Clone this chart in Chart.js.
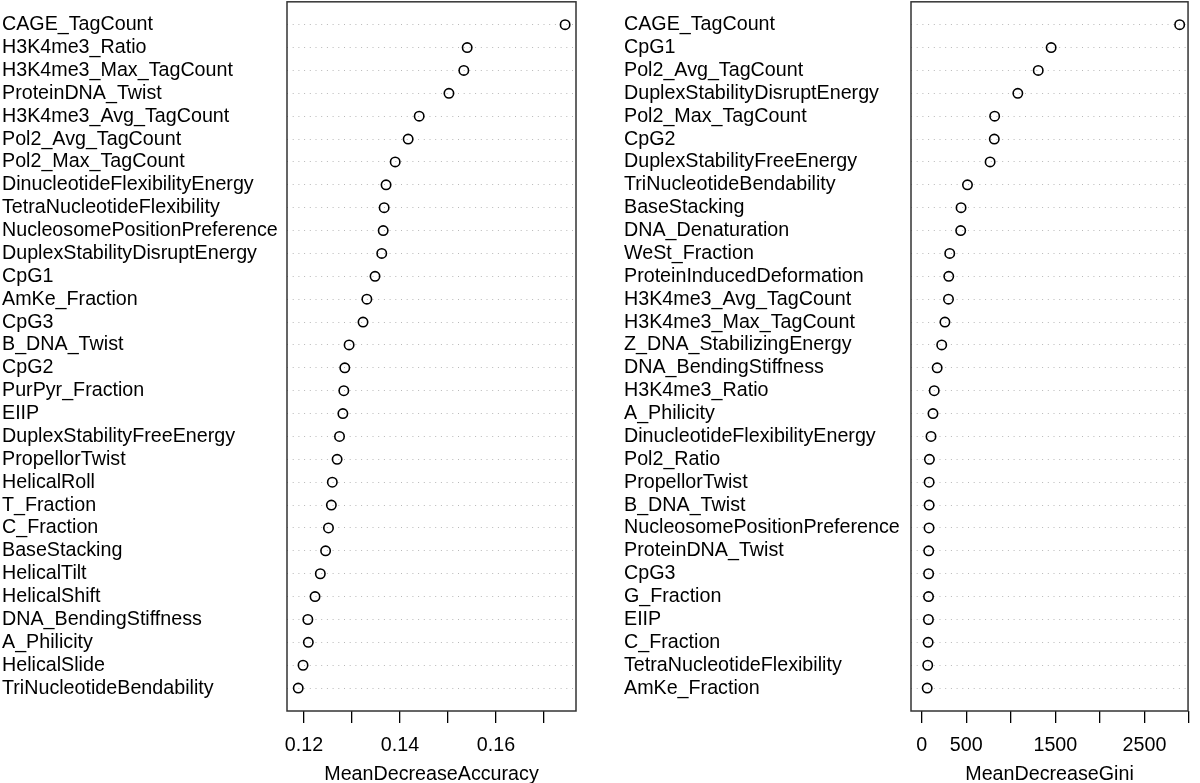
<!DOCTYPE html>
<html lang="en">
<head>
  <meta charset="UTF-8">
  <title>Variable Importance</title>
  <script src="https://cdn.jsdelivr.net/npm/chart.js"></script>
  <style>
    * { margin: 0; padding: 0; box-sizing: border-box; }
    html, body { width: 1200px; height: 783px; background: white; overflow: hidden; }
    .panel { position: absolute; top: -10px; height: 793px; }
    #leftPanel { left: 0; width: 600px; }
    #rightPanel { left: 622px; width: 578px; }
  </style>
</head>
<body>
  <div class="panel" id="leftPanel"><canvas id="accChart"></canvas></div>
  <div class="panel" id="rightPanel"><canvas id="giniChart"></canvas></div>

  <script>
    // ---- data (top row first) ----
    const accNames = [
      'CAGE_TagCount', 'H3K4me3_Ratio', 'H3K4me3_Max_TagCount', 'ProteinDNA_Twist',
      'H3K4me3_Avg_TagCount', 'Pol2_Avg_TagCount', 'Pol2_Max_TagCount',
      'DinucleotideFlexibilityEnergy', 'TetraNucleotideFlexibility',
      'NucleosomePositionPreference', 'DuplexStabilityDisruptEnergy', 'CpG1',
      'AmKe_Fraction', 'CpG3', 'B_DNA_Twist', 'CpG2', 'PurPyr_Fraction', 'EIIP',
      'DuplexStabilityFreeEnergy', 'PropellorTwist', 'HelicalRoll', 'T_Fraction',
      'C_Fraction', 'BaseStacking', 'HelicalTilt', 'HelicalShift',
      'DNA_BendingStiffness', 'A_Philicity', 'HelicalSlide', 'TriNucleotideBendability'
    ];
    const accValues = [
      0.1744, 0.1540, 0.1533, 0.1502, 0.1440, 0.1417, 0.1390, 0.1371, 0.1367, 0.1365,
      0.1362, 0.1348, 0.1331, 0.1323, 0.1294, 0.1285, 0.1283, 0.1281, 0.1274, 0.1269,
      0.1259, 0.1257, 0.1251, 0.1245, 0.1234, 0.1223, 0.1208, 0.1209, 0.1198, 0.1188
    ];

    const giniNames = [
      'CAGE_TagCount', 'CpG1', 'Pol2_Avg_TagCount', 'DuplexStabilityDisruptEnergy',
      'Pol2_Max_TagCount', 'CpG2', 'DuplexStabilityFreeEnergy', 'TriNucleotideBendability',
      'BaseStacking', 'DNA_Denaturation', 'WeSt_Fraction', 'ProteinInducedDeformation',
      'H3K4me3_Avg_TagCount', 'H3K4me3_Max_TagCount', 'Z_DNA_StabilizingEnergy',
      'DNA_BendingStiffness', 'H3K4me3_Ratio', 'A_Philicity', 'DinucleotideFlexibilityEnergy',
      'Pol2_Ratio', 'PropellorTwist', 'B_DNA_Twist', 'NucleosomePositionPreference',
      'ProteinDNA_Twist', 'CpG3', 'G_Fraction', 'EIIP', 'C_Fraction',
      'TetraNucleotideFlexibility', 'AmKe_Fraction'
    ];
    const giniValues = [
      2895, 1453, 1308, 1079, 819, 815, 768, 514, 442, 438,
      315, 304, 301, 261, 225, 174, 141, 127, 105, 87,
      84, 84, 83, 79, 78, 77, 76, 73, 68, 62
    ];

    const accTicks = [0.12, 0.13, 0.14, 0.15, 0.16, 0.17];
    const accTickLabels = ['0.12', '', '0.14', '', '0.16', ''];
    const giniTicks = [0, 500, 1000, 1500, 2000, 2500, 3000];
    const giniTickLabels = ['0', '500', '', '1500', '', '2500', ''];

    const FONT = { family: "'Liberation Sans', Arial, Helvetica, sans-serif", size: 19.7 };

    // draws the box round the plot area, like R does
    const boxPlugin = {
      id: 'box',
      afterDraw(chart) {
        const a = chart.chartArea;
        const ctx = chart.ctx;
        ctx.save();
        ctx.strokeStyle = '#333';
        ctx.lineWidth = 1.5;
        ctx.strokeRect(a.left, a.top, a.right - a.left, a.bottom - a.top);
        ctx.restore();
      }
    };

    function makeDotChart(canvasId, names, values, xmin, xmax, ticks, tickLabels, title, pad, yWidth) {
      const n = names.length;
      const points = values.map((v, i) => ({ x: v, y: n - i }));
      return new Chart(document.getElementById(canvasId), {
        type: 'scatter',
        data: {
          datasets: [{
            data: points,
            pointStyle: 'circle',
            pointRadius: 4.7,
            pointHoverRadius: 4.7,
            pointBorderWidth: 1.6,
            pointBorderColor: '#000',
            pointBackgroundColor: 'rgba(0,0,0,0)'
          }]
        },
        options: {
          responsive: true,
          maintainAspectRatio: false,
          animation: false,
          events: [],
          layout: { padding: pad },
          plugins: { legend: { display: false }, tooltip: { enabled: false } },
          scales: {
            x: {
              type: 'linear',
              min: xmin,
              max: xmax,
              border: { display: false },
              grid: {
                drawOnChartArea: false,
                drawTicks: true,
                tickLength: 12,
                color: '#000',
                lineWidth: 1.3
              },
              afterBuildTicks: (scale) => { scale.ticks = ticks.map(v => ({ value: v })); },
              afterFit: (scale) => { scale.height = 72; },
              ticks: {
                autoSkip: false,
                maxRotation: 0,
                padding: 11,
                color: '#000',
                font: FONT,
                callback: (val, idx) => tickLabels[idx]
              },
              title: {
                display: true,
                text: title,
                color: '#000',
                font: FONT,
                padding: { top: 0, bottom: -3 }
              }
            },
            y: {
              type: 'linear',
              min: 0,
              max: n + 1,
              border: { display: false, dash: [1, 4.7] },
              grid: {
                drawTicks: false,
                color: '#b8b8b8',
                lineWidth: 1
              },
              afterBuildTicks: (scale) => {
                scale.ticks = names.map((_, i) => ({ value: n - i }));
              },
              afterFit: (scale) => {
                scale.width = yWidth;
              },
              ticks: {
                autoSkip: false,
                crossAlign: 'far',
                padding: 0,
                color: '#000',
                font: FONT,
                callback: (val) => names[n - val]
              }
            }
          }
        },
        plugins: [boxPlugin]
      });
    }

    makeDotChart('accChart', accNames, accValues, 0.11646, 0.17667,
      accTicks, accTickLabels, 'MeanDecreaseAccuracy',
      { left: 2, right: 24, top: 2, bottom: 0 }, 285);

    makeDotChart('giniChart', giniNames, giniValues, -119.6, 2989,
      giniTicks, giniTickLabels, 'MeanDecreaseGini',
      { left: 2, right: 3, top: 2, bottom: 0 }, 287);
  </script>
</body>
</html>
